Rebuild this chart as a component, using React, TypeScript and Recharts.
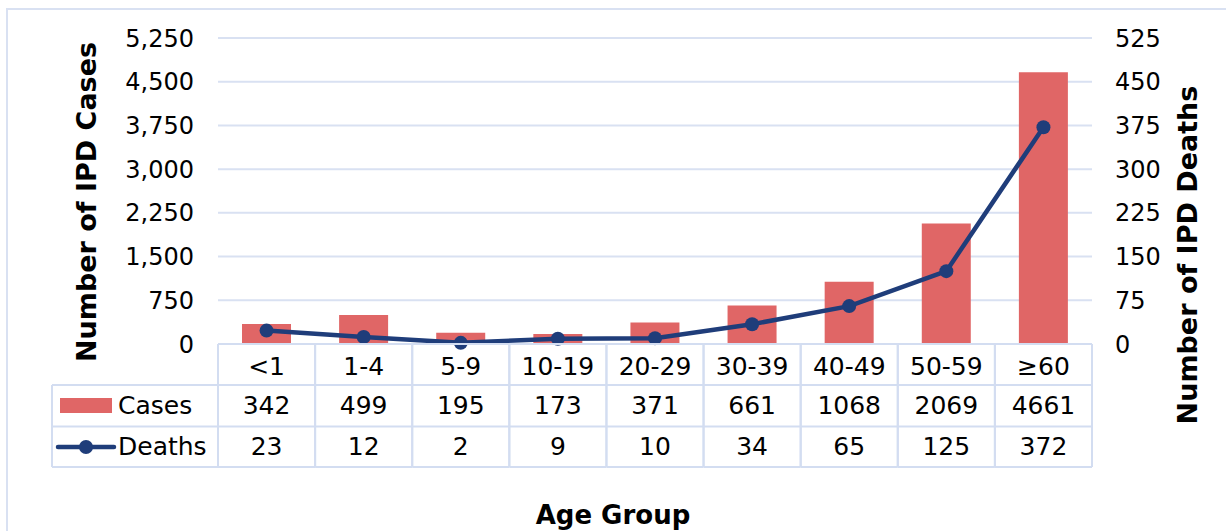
import React from 'react';
import { ComposedChart, Bar, Line, XAxis, YAxis, CartesianGrid } from 'recharts';

const ageGroups = ['<1', '1-4', '5-9', '10-19', '20-29', '30-39', '40-49', '50-59', '≥60'];
const cases = [342, 499, 195, 173, 371, 661, 1068, 2069, 4661];
const deaths = [23, 12, 2, 9, 10, 34, 65, 125, 372];
const caseTicks = [0, 750, 1500, 2250, 3000, 3750, 4500, 5250];
const deathTicks = [0, 75, 150, 225, 300, 375, 450, 525];

const data = ageGroups.map((age, i) => ({ age, cases: cases[i], deaths: deaths[i] }));

const W = 1226;
const H = 531;
const LEFT_W = 218;
const RIGHT_W = 134;
const TOP = 38;
const AXIS_H = 187;
const CELL_W = (W - LEFT_W - RIGHT_W) / ageGroups.length;

const FONT = '"DejaVu Sans", Verdana, sans-serif';
const BAR = '#E06666';
const LINE = '#1F3D7A';
const GRID = '#D9E1F2';
const TABLE = '#D3DDF1';

const ROW1 = 41;
const ROW2 = 82.5;
const ROW3 = 123;

const TableTick = (props: any) => {
  const { x, y, payload } = props;
  const i = payload.index;
  const l = x - CELL_W / 2;
  const r = x + CELL_W / 2;
  const legL = l - 166;
  const txt = { fontFamily: FONT, fontSize: 25, fill: '#000', textAnchor: 'middle' as const, dominantBaseline: 'central' as const };
  return (
    <g>
      <line x1={l} x2={r} y1={y} y2={y} stroke={TABLE} strokeWidth={2} />
      <line x1={l} x2={r} y1={y + ROW1} y2={y + ROW1} stroke={TABLE} strokeWidth={2} />
      <line x1={l} x2={r} y1={y + ROW2} y2={y + ROW2} stroke={TABLE} strokeWidth={2} />
      <line x1={l} x2={r} y1={y + ROW3} y2={y + ROW3} stroke={TABLE} strokeWidth={2} />
      <line x1={l} x2={l} y1={y} y2={y + ROW3} stroke={TABLE} strokeWidth={2} />
      <line x1={r} x2={r} y1={y} y2={y + ROW3} stroke={TABLE} strokeWidth={2} />
      <text x={x} y={y + 22} {...txt}>{payload.value}</text>
      <text x={x} y={y + 61} {...txt}>{cases[i]}</text>
      <text x={x} y={y + 102} {...txt}>{deaths[i]}</text>
      {i === 0 && (
        <g>
          <line x1={legL} x2={l} y1={y + ROW1} y2={y + ROW1} stroke={TABLE} strokeWidth={2} />
          <line x1={legL} x2={l} y1={y + ROW2} y2={y + ROW2} stroke={TABLE} strokeWidth={2} />
          <line x1={legL} x2={l} y1={y + ROW3} y2={y + ROW3} stroke={TABLE} strokeWidth={2} />
          <line x1={legL} x2={legL} y1={y + ROW1} y2={y + ROW3} stroke={TABLE} strokeWidth={2} />
          <rect x={legL + 8} y={y + 54} width={52} height={15} fill={BAR} />
          <text x={legL + 66} y={y + 61} {...txt} textAnchor="start">Cases</text>
          <line x1={legL + 6} x2={legL + 62} y1={y + 103} y2={y + 103} stroke={LINE} strokeWidth={4.5} strokeLinecap="round" />
          <circle cx={legL + 34} cy={y + 103} r={7} fill={LINE} />
          <text x={legL + 66} y={y + 102} {...txt} textAnchor="start">Deaths</text>
        </g>
      )}
    </g>
  );
};

const titleStyle = { fontFamily: FONT, fontSize: 27, fontWeight: 'bold' as const, fill: '#000' };

const LeftTitle = (props: any) => {
  const vb = props.viewBox;
  const cx = vb.x + 86;
  const cy = vb.y + vb.height / 2 + 11;
  return (
    <text x={cx} y={cy} transform={`rotate(-90 ${cx} ${cy})`} textAnchor="middle" dominantBaseline="central" {...titleStyle}>
      Number of IPD Cases
    </text>
  );
};

const RightTitle = (props: any) => {
  const vb = props.viewBox;
  const cx = vb.x + 95;
  const cy = vb.y + vb.height / 2 + 64;
  return (
    <text x={cx} y={cy} transform={`rotate(-90 ${cx} ${cy})`} textAnchor="middle" dominantBaseline="central" {...titleStyle}>
      Number of IPD Deaths
    </text>
  );
};

const BottomTitle = (props: any) => {
  const vb = props.viewBox;
  return (
    <text x={W / 2} y={vb.y + 171} textAnchor="middle" dominantBaseline="central" {...titleStyle} fontSize={26}>
      Age Group
    </text>
  );
};

const tickStyle = { fontFamily: FONT, fontSize: 24, fill: '#000' };

export default function App() {
  return (
    <div style={{ position: 'absolute', left: 0, top: 0, width: W, height: H, overflow: 'hidden', background: '#fff' }}>
      <div style={{ position: 'absolute', left: 6, top: 8, width: 1240, height: 600, border: `2px solid ${GRID}` }} />
      <div style={{ position: 'absolute', left: 0, top: 0 }}>
        <ComposedChart width={W} height={H} data={data} margin={{ top: TOP, right: 0, left: 0, bottom: 0 }}>
          <CartesianGrid yAxisId="left" vertical={false} stroke={GRID} strokeWidth={2} />
          <XAxis
            dataKey="age"
            height={AXIS_H}
            axisLine={false}
            tickLine={false}
            tickSize={0}
            tickMargin={0}
            interval={0}
            tick={<TableTick />}
            label={<BottomTitle />}
          />
          <YAxis
            yAxisId="left"
            width={LEFT_W}
            domain={[0, 5250]}
            ticks={caseTicks}
            axisLine={false}
            tickLine={false}
            tickMargin={18}
            tick={tickStyle}
            tickFormatter={(v: number) => v.toLocaleString('en-US')}
            label={<LeftTitle />}
          />
          <YAxis
            yAxisId="right"
            orientation="right"
            width={RIGHT_W}
            domain={[0, 525]}
            ticks={deathTicks}
            axisLine={false}
            tickLine={false}
            tickMargin={17}
            tick={tickStyle}
            label={<RightTitle />}
          />
          <Bar yAxisId="left" dataKey="cases" fill={BAR} barSize={49} isAnimationActive={false} />
          <Line
            yAxisId="right"
            type="linear"
            dataKey="deaths"
            stroke={LINE}
            strokeWidth={4.5}
            dot={{ r: 7, fill: LINE, stroke: LINE, strokeWidth: 0 }}
            activeDot={false}
            isAnimationActive={false}
          />
        </ComposedChart>
      </div>
    </div>
  );
}
